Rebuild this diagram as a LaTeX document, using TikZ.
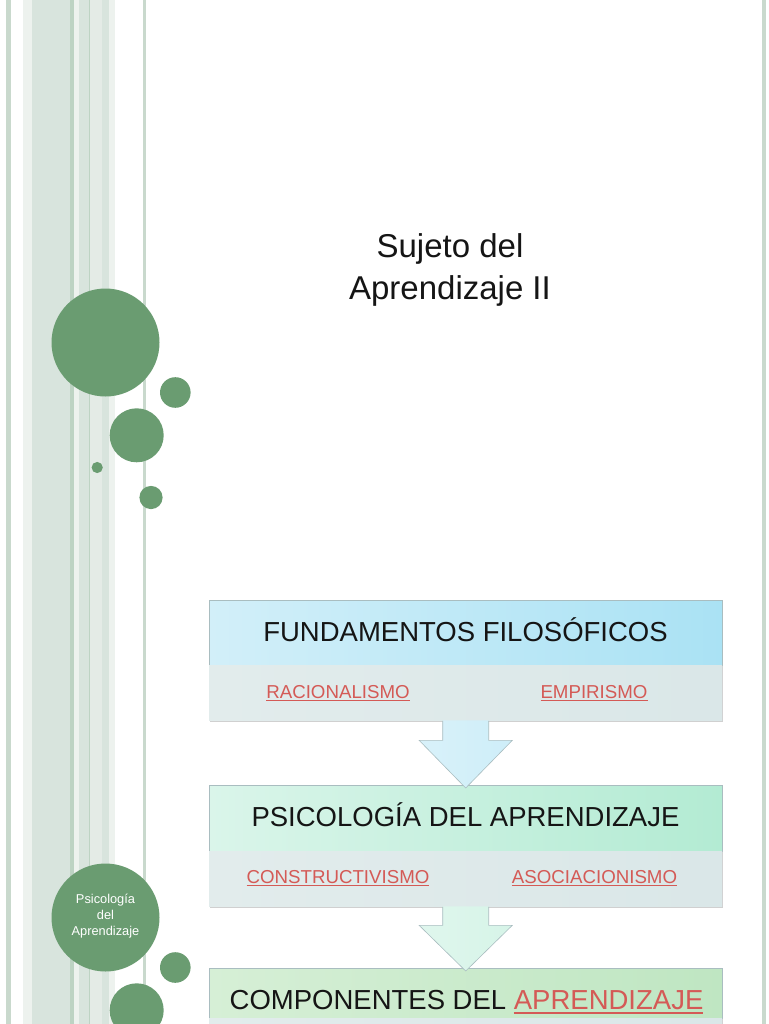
\documentclass[tikz,border=0pt]{standalone}
\usepackage{fontspec}
\setmainfont{Liberation Sans}
\usetikzlibrary{calc,shadows}
\definecolor{circgreen}{HTML}{6A9C71}
\definecolor{stripeA}{HTML}{D8E4DD}
\definecolor{stripeB}{HTML}{BDD3C3}
\definecolor{stripeC}{HTML}{EDF2EE}
\definecolor{stripeD}{HTML}{E4EBE6}
\definecolor{stripeE}{HTML}{C9D9CD}
\definecolor{linkred}{HTML}{D45A56}
\definecolor{blueL}{HTML}{D2EFF9}
\definecolor{blueR}{HTML}{AAE2F4}
\definecolor{mintL}{HTML}{DAF5EA}
\definecolor{mintR}{HTML}{B3EBD3}
\definecolor{greenL}{HTML}{D6EFD6}
\definecolor{greenR}{HTML}{BFE6C2}
\definecolor{lowL}{HTML}{E2ECEC}
\definecolor{lowR}{HTML}{DAE7E8}
\definecolor{edgegray}{HTML}{A9BDC0}
\definecolor{textblack}{HTML}{151515}
\newcommand\lnk[1]{\setbox0\hbox{#1}\rlap{\rule[-0.17em]{\wd0}{0.065em}}\box0}
\tikzset{
  boxframe/.style={fill=white, draw=none, minimum width=513, inner sep=0, anchor=north west,
    drop shadow={opacity=0.3, shadow xshift=0.8pt, shadow yshift=-1.6pt, fill=black!60}},
  headpart/.style={draw=edgegray, line width=0.4pt, minimum width=513, inner sep=0, anchor=north west},
  lowpart/.style={left color=lowL, right color=lowR, draw=none, minimum width=513, inner sep=0, anchor=north west},
  headtext/.style={anchor=base, text=textblack, inner sep=0, font=\fontsize{27.5}{32}\selectfont},
  linktext/.style={anchor=base, text=linkred, inner sep=0, font=\fontsize{18.7}{22}\selectfont},
  titletext/.style={anchor=base, text=textblack, inner sep=0, font=\fontsize{33}{38}\selectfont},
  arrowedge/.style={draw=edgegray, line width=0.6pt, line join=miter},
  dot/.style={fill=circgreen}
}
\begin{document}
\begin{tikzpicture}[x=1pt,y=-1pt]
\useasboundingbox (0,0) rectangle (768,1024);
\clip (0,0) rectangle (768,1024);
\fill[white] (0,0) rectangle (768,1024);
% left stripes
\fill[stripeE] (6,0) rectangle (11,1024);
\fill[stripeC] (23,0) rectangle (32,1024);
\fill[stripeA] (32,0) rectangle (70,1024);
\fill[stripeB] (70,0) rectangle (74,1024);
\fill[stripeC] (74,0) rectangle (79,1024);
\fill[stripeA] (79,0) rectangle (89,1024);
\fill[stripeB] (89,0) rectangle (90,1024);
\fill[stripeD] (90,0) rectangle (102,1024);
\fill[stripeA] (102,0) rectangle (109,1024);
\fill[stripeC] (109,0) rectangle (115,1024);
\fill[stripeE] (143,0) rectangle (146,1024);
\fill[stripeE] (762,0) rectangle (765.5,1024);
% circles top
\fill[dot] (105.5,342.5) circle (54);
\fill[dot] (175.3,392.5) circle (15.3);
\fill[dot] (136.7,435.3) circle (27);
\fill[dot] (97.2,467.5) circle (5.6);
\fill[dot] (151,497.5) circle (11.6);
% circles bottom
\node[circle, dot, minimum size=108, inner sep=0] (psicirc) at (105.5,917.5) {};
\fill[dot] (175.3,967.5) circle (15.3);
\fill[dot] (136.7,1010.3) circle (27);
\node[text=white, align=center, font=\fontsize{12.8}{16}\selectfont, inner sep=0] (psitext) at (105.5,916) {Psicología\\del\\Aprendizaje};
% title
\node[titletext] (title1) at (450,257) {Sujeto del};
\node[titletext] (title2) at (450,299) {Aprendizaje II};
% box 1
\node[boxframe, minimum height=120] (fund) at (209,600) {};
\node[headpart, left color=blueL, right color=blueR, minimum height=65] (fundhead) at (fund.north west) {};
\node[lowpart, minimum height=55] (fundlow) at (fundhead.south west) {};
\node[headtext] (fundtxt) at (465.5,641.5) {FUNDAMENTOS FILOSÓFICOS};
\node[linktext] (racio) at (338,698) {\lnk{RACIONALISMO}};
\node[linktext] (empir) at (594,698) {\lnk{EMPIRISMO}};
% box 2
\node[boxframe, minimum height=121] (psi) at (209,785) {};
\node[headpart, left color=mintL, right color=mintR, minimum height=66] (psihead) at (psi.north west) {};
\node[lowpart, minimum height=55] (psilow) at (psihead.south west) {};
\node[headtext] (psitxt) at (465.5,826.5) {PSICOLOGÍA DEL APRENDIZAJE};
\node[linktext] (constr) at (338,883) {\lnk{CONSTRUCTIVISMO}};
\node[linktext] (asoc) at (594.5,883) {\lnk{ASOCIACIONISMO}};
% box 3
\node[boxframe, minimum height=110] (comp) at (209,968) {};
\node[headpart, left color=greenL, right color=greenR, minimum height=50] (comphead) at (comp.north west) {};
\node[lowpart, minimum height=60] (complow) at (comphead.south west) {};
\node[headtext] (comptxt) at (466.5,1009) {COMPONENTES DEL {\color{linkred}\lnk{APRENDIZAJE}}};
% arrow 1
\shade[left color=blueL!85!white, right color=blueL!90!blueR]
  ($(fund.south)+(-23,0)$) -- ($(fund.south)+(-23,20)$) -- ($(fund.south)+(-46.5,20)$)
  -- ($(psi.north)+(0,3)$) -- ($(fund.south)+(46.5,20)$) -- ($(fund.south)+(23,20)$)
  -- ($(fund.south)+(23,0)$) -- cycle;
\draw[arrowedge]
  ($(fund.south)+(-23,0.5)$) -- ($(fund.south)+(-23,20)$) -- ($(fund.south)+(-46.5,20)$)
  -- ($(psi.north)+(0,3)$) -- ($(fund.south)+(46.5,20)$) -- ($(fund.south)+(23,20)$)
  -- ($(fund.south)+(23,0.5)$);
% arrow 2
\shade[left color=mintL!85!white, right color=mintL!90!mintR]
  ($(psi.south)+(-23,0)$) -- ($(psi.south)+(-23,19)$) -- ($(psi.south)+(-46.5,19)$)
  -- ($(comp.north)+(0,3)$) -- ($(psi.south)+(46.5,19)$) -- ($(psi.south)+(23,19)$)
  -- ($(psi.south)+(23,0)$) -- cycle;
\draw[arrowedge]
  ($(psi.south)+(-23,0.5)$) -- ($(psi.south)+(-23,19)$) -- ($(psi.south)+(-46.5,19)$)
  -- ($(comp.north)+(0,3)$) -- ($(psi.south)+(46.5,19)$) -- ($(psi.south)+(23,19)$)
  -- ($(psi.south)+(23,0.5)$);
\end{tikzpicture}
\end{document}
